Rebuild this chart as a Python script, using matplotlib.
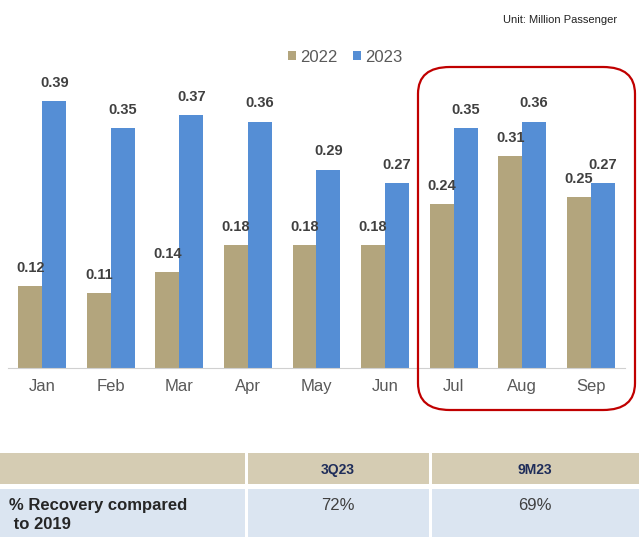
import matplotlib.pyplot as plt
from matplotlib.patches import FancyBboxPatch, Rectangle
import numpy as np

plt.rcParams['font.family'] = ['Liberation Sans', 'DejaVu Sans']

months = ['Jan', 'Feb', 'Mar', 'Apr', 'May', 'Jun', 'Jul', 'Aug', 'Sep']
pax_2022 = [0.12, 0.11, 0.14, 0.18, 0.18, 0.18, 0.24, 0.31, 0.25]
pax_2023 = [0.39, 0.35, 0.37, 0.36, 0.29, 0.27, 0.35, 0.36, 0.27]
table_cols = ['3Q23', '9M23']
table_row_label = '% Recovery compared\n to 2019'
table_vals = ['72%', '69%']

c22 = '#b3a57d'
c23 = '#558ed5'

fig = plt.figure(figsize=(6.39, 5.37), dpi=100)
W, H = 639, 537

def fx(px):
    return px / W

def fy(py):
    return 1 - py / H

# chart area: baseline at y=368px, axis from x=8 to 625px
ax = fig.add_axes([fx(8), fy(368), fx(617), 308 / H])
x = np.arange(len(months))
w = 0.35
b1 = ax.bar(x - w / 2, pax_2022, w, color=c22, label='2022')
b2 = ax.bar(x + w / 2, pax_2023, w, color=c23, label='2023')
for bars, vals in ((b1, pax_2022), (b2, pax_2023)):
    for r, v in zip(bars, vals):
        ax.annotate(f'{v:.2f}', (r.get_x() + r.get_width() / 2, v),
                    xytext=(0, 8), textcoords='offset points',
                    ha='center', va='bottom', fontsize=10.5, fontweight='bold',
                    color='#404040')
ax.set_xlim(-0.5, 8.5)
ax.set_ylim(0, 0.45)
ax.set_xticks(x)
ax.set_xticklabels(months, fontsize=12, color='#595959')
ax.tick_params(axis='x', length=0, pad=8)
ax.set_yticks([])
for s in ['top', 'right', 'left']:
    ax.spines[s].set_visible(False)
ax.spines['bottom'].set_color('#d0d0d0')
ax.patch.set_visible(False)

fig.legend(loc='center', bbox_to_anchor=(fx(345), fy(57)), ncol=2, frameon=False,
           fontsize=12, handlelength=0.5, handleheight=0.5, handletextpad=0.25,
           columnspacing=0.9, labelcolor='#595959')

fig.text(fx(617), fy(20), 'Unit: Million Passenger', ha='right', va='center',
         fontsize=8, color='#222222')

# red highlight box around Q3
fig.patches.append(FancyBboxPatch((fx(418), fy(410)), fx(217), (410 - 67) / H,
                                  boxstyle='round,pad=0,rounding_size=0.05',
                                  transform=fig.transFigure, fill=False,
                                  edgecolor='#c00000', linewidth=1.6))

# table below
col_edges = [0, 246, 430, 639]
rows = [(453, 484, '#d5ccb3'), (489, 537, '#dbe5f1')]
for (y0, y1, col) in rows:
    for i in range(3):
        x0 = col_edges[i] + (1.5 if i > 0 else 0)
        x1 = col_edges[i + 1] - (1.5 if i < 2 else 0)
        fig.patches.append(Rectangle((fx(x0), fy(y1)), fx(x1 - x0), (y1 - y0) / H,
                                     transform=fig.transFigure, facecolor=col,
                                     edgecolor='none'))
for i, t in enumerate(table_cols):
    cx = (col_edges[i + 1] + col_edges[i + 2]) / 2
    fig.text(fx(cx), fy(470), t, ha='center', va='center', fontsize=10,
             fontweight='bold', color='#1f2d5a')
    fig.text(fx(cx), fy(505), table_vals[i], ha='center', va='center',
             fontsize=12, color='#404040')
fig.text(fx(9), fy(515), table_row_label, ha='left', va='center',
         fontsize=12, fontweight='bold', color='#262626', linespacing=1.4)

fig.savefig('out.png', dpi=100)
